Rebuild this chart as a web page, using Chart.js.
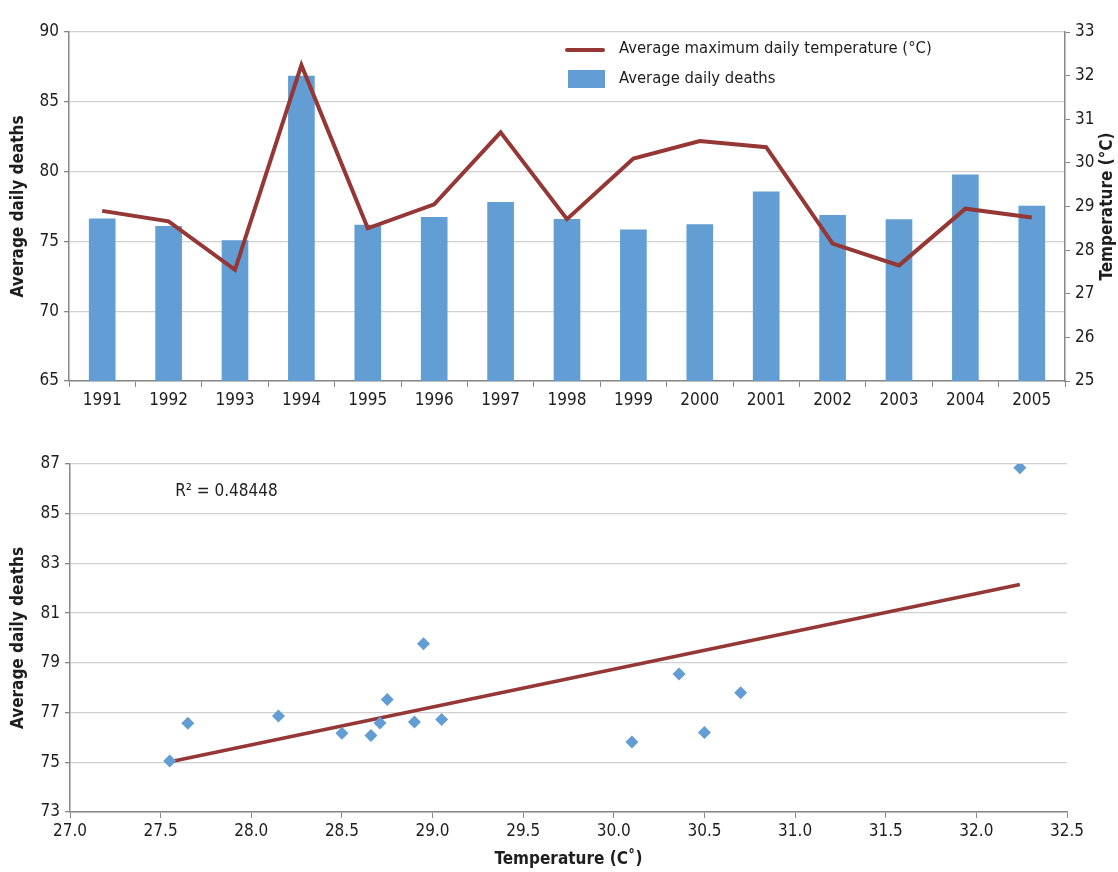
<!DOCTYPE html>
<html>
<head>
<meta charset="utf-8">
<script src="https://cdn.jsdelivr.net/npm/chart.js@4.4.1/dist/chart.umd.min.js"></script>
<style>
  html, body { margin: 0; padding: 0; background: #fff; }
  #topBox { position: absolute; left: 0; top: 0; }
  #bottomBox { position: absolute; left: 0; top: 425px; }
</style>
</head>
<body>
<div id="topBox"><canvas id="topChart" width="1118" height="425"></canvas></div>
<div id="bottomBox"><canvas id="bottomChart" width="1118" height="447"></canvas></div>
<script>
// values
const years = ['1991', '1992', '1993', '1994', '1995', '1996', '1997', '1998',
               '1999', '2000', '2001', '2002', '2003', '2004', '2005'];
const avgDeaths = [76.62, 76.08, 75.05, 86.85, 76.17, 76.72, 77.8, 76.58,
                   75.82, 76.2, 78.55, 76.86, 76.57, 79.77, 77.53];
const maxTemp = [28.9, 28.66, 27.55, 32.24, 28.5, 29.05, 30.7, 28.71,
                 30.1, 30.5, 30.36, 28.15, 27.65, 28.95, 28.75];
// linear trend line end points (as drawn in the reference)
const trendTemp = [27.54, 32.24];
const trendDeaths = [75.0, 82.15];
const rSquaredText = 'R\u00B2 = 0.48448';

const FONT = "'Liberation Sans Narrow', 'DejaVu Sans Condensed', 'Roboto Condensed', 'Liberation Sans', sans-serif";
const BLUE = '#629dd3';
const RED = '#953735';
const GRID = '#d0d0d0';
const AXIS = '#878787';
const TXT = '#1e1e1e';

Chart.defaults.font.family = FONT;
Chart.defaults.font.size = 17;
Chart.defaults.color = TXT;

// legend inside the plot + right axis title reading upwards
const topExtras = {
  id: 'topExtras',
  afterDraw(chart) {
    const ctx = chart.ctx;
    const ds = chart.data.datasets;
    ctx.save();
    ctx.font = '16.5px ' + FONT;
    ctx.fillStyle = TXT;
    ctx.textBaseline = 'middle';
    ctx.textAlign = 'left';
    ctx.strokeStyle = ds[0].borderColor;
    ctx.lineWidth = 4;
    ctx.lineCap = 'round';
    ctx.beginPath();
    ctx.moveTo(567, 50);
    ctx.lineTo(603, 50);
    ctx.stroke();
    ctx.fillText(ds[0].label, 619, 49);
    ctx.fillStyle = ds[1].backgroundColor;
    ctx.fillRect(568, 70, 37, 18);
    ctx.fillStyle = TXT;
    ctx.fillText(ds[1].label, 619, 79);

    const area = chart.chartArea;
    ctx.translate(1108, (area.top + area.bottom) / 2);
    ctx.rotate(-Math.PI / 2);
    ctx.textAlign = 'center';
    ctx.font = 'bold 17px ' + FONT;
    ctx.fillText('Temperature (\u00B0C)', 0, 0);
    ctx.restore();
  }
};

new Chart(document.getElementById('topChart'), {
  data: {
    labels: years,
    datasets: [
      {
        type: 'line',
        label: 'Average maximum daily temperature (\u00B0C)',
        data: maxTemp,
        yAxisID: 'yTemp',
        borderColor: RED,
        borderWidth: 4,
        pointRadius: 0,
        tension: 0,
        order: 0
      },
      {
        type: 'bar',
        label: 'Average daily deaths',
        data: avgDeaths,
        yAxisID: 'yDeaths',
        backgroundColor: BLUE,
        barThickness: 26,
        order: 1
      }
    ]
  },
  options: {
    responsive: false,
    animation: false,
    layout: { padding: { top: 32, left: 0, right: 0, bottom: 0 } },
    plugins: { legend: { display: false }, tooltip: { enabled: false } },
    scales: {
      x: {
        grid: { drawOnChartArea: false, tickLength: 6, color: AXIS, offset: true },
        border: { color: AXIS, width: 1.5 },
        ticks: { padding: 3, color: TXT },
        afterFit(s) { s.height = 44; }
      },
      yDeaths: {
        position: 'left',
        min: 65, max: 90,
        ticks: { stepSize: 5, padding: 5, color: TXT },
        grid: { color: GRID, tickColor: AXIS, tickLength: 5, lineWidth: 1.3 },
        border: { color: AXIS, width: 1.5 },
        title: { display: true, text: 'Average daily deaths', font: { weight: 'bold', size: 17 }, padding: { top: 8 }, color: TXT },
        afterFit(s) { s.width = 69; }
      },
      yTemp: {
        position: 'right',
        min: 25, max: 33,
        ticks: { stepSize: 1, padding: 5, color: TXT },
        grid: { drawOnChartArea: false, tickLength: 5, color: AXIS },
        border: { color: AXIS, width: 1.5 },
        afterFit(s) { s.width = 53; }
      }
    }
  },
  plugins: [topExtras]
});

const rSquaredLabel = {
  id: 'rSquaredLabel',
  afterDraw(chart) {
    const ctx = chart.ctx;
    const x = chart.scales.x.getPixelForValue(27.58);
    const y = chart.scales.y.getPixelForValue(85.9);
    ctx.save();
    ctx.font = '17px ' + FONT;
    ctx.fillStyle = TXT;
    ctx.textBaseline = 'middle';
    ctx.textAlign = 'left';
    ctx.fillText(rSquaredText, x, y);
    ctx.restore();
  }
};

new Chart(document.getElementById('bottomChart'), {
  type: 'scatter',
  data: {
    datasets: [
      {
        label: 'Average daily deaths',
        data: maxTemp.map((t, i) => ({ x: t, y: avgDeaths[i] })),
        pointStyle: 'rectRot',
        pointRadius: 6.5,
        backgroundColor: BLUE,
        borderColor: BLUE,
        borderWidth: 0,
        order: 0
      },
      {
        type: 'line',
        label: 'Linear trend',
        data: trendTemp.map((t, i) => ({ x: t, y: trendDeaths[i] })),
        borderColor: RED,
        borderWidth: 3.5,
        pointRadius: 0,
        order: 1
      }
    ]
  },
  options: {
    responsive: false,
    animation: false,
    layout: { padding: { top: 39, left: 0, right: 51, bottom: 0 } },
    plugins: { legend: { display: false }, tooltip: { enabled: false } },
    scales: {
      x: {
        type: 'linear',
        min: 27, max: 32.5,
        ticks: { stepSize: 0.5, padding: 3, color: TXT, callback: v => v.toFixed(1) },
        grid: { drawOnChartArea: false, tickLength: 6, color: AXIS },
        border: { color: AXIS, width: 1.5 },
        title: { display: true, text: 'Temperature (C\u02DA)', font: { weight: 'bold', size: 17 }, padding: { bottom: 2 }, color: TXT },
        afterFit(s) { s.height = 60; }
      },
      y: {
        min: 73, max: 87,
        ticks: { stepSize: 2, padding: 5, color: TXT },
        grid: { color: GRID, tickColor: AXIS, tickLength: 5, lineWidth: 1.3 },
        border: { color: AXIS, width: 1.5 },
        title: { display: true, text: 'Average daily deaths', font: { weight: 'bold', size: 17 }, padding: { top: 8 }, color: TXT },
        afterFit(s) { s.width = 70; }
      }
    }
  },
  plugins: [rSquaredLabel]
});
</script>
</body>
</html>
